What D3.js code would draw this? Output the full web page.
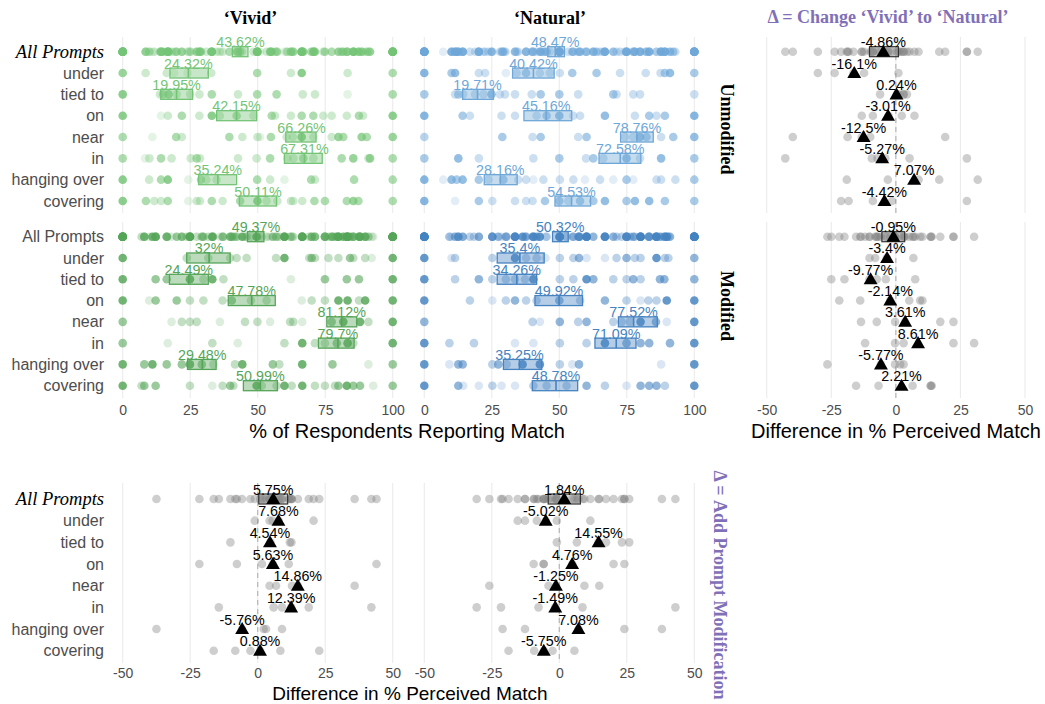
<!DOCTYPE html>
<html>
<head>
<meta charset="utf-8">
<script src="https://cdn.jsdelivr.net/npm/d3@7"></script>
<style>
  body { margin: 0; background: #fff; }
  text { font-family: "Liberation Sans", Arial, sans-serif; }
</style>
</head>
<body>
<svg id="chart" width="1045" height="704"></svg>
<script>
// Row order, top to bottom
const prompts = ["under", "tied to", "on", "near", "in", "hanging over", "covering"];
const rowLabels = ["All Prompts", ...prompts];

// Per-image match rates, [value, overlap count], one array per prompt (same order as prompts)
const vividUnmodDots = [
  [[0,6],[8.5,2],[16.3,2],[19,1],[24,1],[32.8,2],[49.8,4],[62.3,2],[66.3,8],[83.3,2],[100,4]],
  [[0,8],[13.8,2],[15,4],[17,6],[20,2],[25,2],[28.4,2],[33,4],[42.7,2],[49.8,4],[57,4],[66.7,2],[71.2,2],[83.3,1],[100,4]],
  [[0,8],[14.2,1],[16.7,2],[21.9,4],[28.4,2],[33,8],[36,2],[42.2,4],[48.4,2],[55.2,4],[56.4,2],[62.3,2],[66.3,4],[70.6,4],[74.3,2],[77.4,2],[83,2],[87.5,4],[89,2],[100,8]],
  [[0,4],[11,1],[19.8,4],[21.9,2],[39.5,4],[44.3,2],[49.9,2],[50.9,1],[54.9,4],[60.7,2],[63,2],[66.3,8],[70.6,2],[77.4,2],[79.9,6],[81.7,4],[88.5,6],[90.4,4],[100,6]],
  [[0,4],[8.3,1],[9.9,2],[14.2,4],[18.1,2],[25.2,2],[27.4,4],[28.6,2],[42.7,2],[49.6,2],[54.6,4],[61,2],[63.2,2],[66.9,4],[70.6,2],[81.1,4],[85.4,6],[91,2],[91.6,6],[100,4]],
  [[0,8],[9.8,2],[14.2,4],[16.7,8],[24.3,1],[29,4],[31,2],[34.8,2],[49.8,4],[54.6,2],[59.9,1],[69.8,4],[71.2,2],[85.7,4],[100,4]],
  [[0,8],[8.6,4],[11.7,2],[14.2,2],[16.7,4],[24.3,1],[27.4,2],[28.6,2],[33,4],[37,2],[43.5,4],[49.9,8],[53.3,2],[57.3,2],[62.3,2],[63.2,2],[66.5,2],[71,4],[74.9,4],[83,4],[85.4,6],[87.3,4],[100,4]]
];
const naturalUnmodDots = [
  [[0,8],[10.1,4],[11.4,6],[20.2,2],[22.5,2],[30.2,1],[34.2,2],[37.7,4],[42.8,2],[46.5,2],[50.2,2],[54.8,4],[63.8,4],[72.5,2],[82,2],[87.5,2],[89.1,4],[91,6],[100,4]],
  [[0,4],[11.4,2],[12.6,4],[14.4,2],[18.8,2],[21.9,2],[24.9,6],[28,2],[29.9,2],[33.6,2],[39.8,2],[43.1,4],[50,4],[57,2],[70,4],[71.2,2],[77.4,2],[79.9,2],[100,2]],
  [[0,8],[14.2,4],[16.9,2],[28.6,2],[33.6,2],[41.6,2],[45.3,4],[50,6],[55.2,2],[57.7,2],[66.9,6],[78,2],[83.3,4],[86,2],[89.1,4],[100,8]],
  [[0,3],[28.9,4],[40.1,2],[43.1,4],[57,2],[60.1,4],[74.3,2],[77.4,2],[79.9,6],[82.3,4],[87.7,2],[92.2,4],[100,6]],
  [[0,4],[12.6,6],[20.2,2],[40.4,2],[50,4],[59.9,2],[62.6,4],[66.3,2],[74.9,6],[79.9,2],[87.7,6],[100,4]],
  [[0,8],[7,1],[10.1,6],[12,4],[14.2,6],[20.2,4],[23.7,2],[29.3,4],[34.8,2],[37.7,2],[40.4,1],[44.1,2],[50.2,2],[55.2,2],[59.5,1],[65.1,2],[70,1],[74.9,4],[77.4,1],[86,2],[87.7,2],[93,2],[100,4]],
  [[0,8],[11.4,1],[20.2,4],[25.2,2],[33.6,2],[37.7,2],[40.1,2],[44.7,4],[50,4],[53.3,2],[57.7,4],[62.6,4],[66.9,6],[74.9,4],[78,6],[83.3,6],[89.1,4],[100,4]]
];
const vividModDots = [
  [[0,8],[23.7,2],[31.7,2],[39.8,2],[42.2,2],[45.9,2],[56.8,2],[59.9,8],[69.1,2],[70,4],[71.2,2],[76.2,2],[79.9,2],[84.2,4],[85.4,2],[89.8,2],[92.2,1],[100,8]],
  [[0,8],[12.2,4],[16.3,4],[24.9,8],[29.9,2],[33.2,8],[37.3,2],[62.3,1],[74.9,4],[83,4],[87.5,4],[100,8]],
  [[0,8],[9.8,1],[12.2,4],[20,4],[24.9,2],[29.9,2],[37,2],[40.4,4],[47.5,2],[53.3,2],[66.3,1],[70,2],[74.9,2],[79.9,8],[83.3,8],[87.5,2],[89.8,8],[100,8]],
  [[0,4],[18.1,1],[21.9,2],[24.9,2],[27.4,2],[36,1],[45.3,2],[49.9,2],[54.6,1],[62,2],[63.2,2],[66.5,1],[77.4,4],[81.7,8],[87.9,8],[91,2],[100,8]],
  [[0,4],[16.7,1],[33.2,2],[42.6,1],[59.9,2],[66.5,8],[71.2,2],[74.9,2],[79.3,4],[83.3,8],[85.4,2],[100,8]],
  [[0,8],[8,4],[11,8],[16.3,4],[21.9,4],[24.9,8],[29.3,4],[33.6,2],[41.6,2],[44.3,8],[55.6,4],[58,2],[66.5,8],[77.7,4],[91,1],[100,4]],
  [[0,8],[7,2],[8,4],[12.2,4],[24.9,2],[33.2,1],[37,2],[39.8,4],[41,2],[49.6,8],[51.5,2],[57,2],[59.9,8],[62.6,2],[66.5,8],[71.2,2],[74.9,2],[78.6,2],[79.9,4],[83,8],[85.4,4],[87.9,4],[92.8,1],[100,4]]
];
const naturalModDots = [
  [[0,8],[10.1,1],[11.4,2],[25.2,2],[33.6,8],[37.7,2],[41.6,2],[44.9,1],[50.2,2],[55.2,2],[57.3,4],[60.1,1],[66.9,1],[71.2,2],[74.9,4],[78,2],[80.1,2],[86,8],[89.1,2],[90.4,2],[100,4]],
  [[0,8],[11.4,2],[20.2,4],[25.2,2],[30.2,2],[33.6,2],[37.3,2],[40.4,8],[50.2,2],[55.2,2],[60.1,8],[62.6,4],[70,2],[74.9,2],[77.4,4],[80.1,2],[87.3,4],[88.9,4],[100,4]],
  [[0,8],[16.9,2],[25.2,1],[30.2,2],[33.6,4],[37.7,2],[41.6,2],[50,4],[57.7,2],[66.9,4],[74.9,2],[80.1,1],[83,2],[86,2],[89.8,8],[100,8]],
  [[0,4],[40.1,2],[42.8,1],[50.2,4],[57,2],[60.1,4],[70,2],[73.1,2],[76.2,2],[80.1,8],[85.8,4],[89.8,1],[100,8]],
  [[0,8],[9.3,2],[18.4,2],[33.6,1],[40.4,1],[50.2,2],[60.1,2],[66.9,8],[74.9,4],[80.1,4],[83.3,4],[91,4],[100,8]],
  [[0,8],[9.3,1],[12.6,4],[14.2,4],[25.2,2],[27.4,4],[30.5,2],[36.4,8],[42.8,8],[50.2,2],[54.8,1],[57.3,4],[87.7,1],[100,8]],
  [[0,8],[12.6,4],[14.4,1],[20.2,1],[25.2,2],[28.6,1],[33.6,1],[40.4,2],[45.3,2],[52.7,2],[60.1,4],[66.9,2],[74.9,1],[80.1,4],[83.3,4],[86,4],[89.1,2],[100,8]]
];

// Means and interval bounds, rows in rowLabels order
const vividUnmodMean = ["43.62", "24.32", "19.95", "42.15", "66.26", "67.31", "35.24", "50.11"];
const vividUnmodLo = [40.6, 17.5, 14.1, 34.8, 60.4, 59.9, 28.1, 43.2];
const vividUnmodHi = [46.4, 31.7, 25.9, 49.6, 71.6, 73.9, 42.2, 57.0];
const naturalUnmodMean = ["48.47", "40.42", "19.71", "45.16", "78.76", "72.58", "28.16", "54.53"];
const naturalUnmodLo = [45.7, 32.7, 14.2, 36.9, 72.7, 64.7, 22.2, 48.4];
const naturalUnmodHi = [51.9, 48.1, 25.6, 54.6, 84.8, 80.2, 34.4, 61.6];
const vividModMean = ["49.37", "32", "24.49", "47.78", "81.12", "79.7", "29.48", "50.99"];
const vividModLo = [46.2, 23.7, 17.3, 39.1, 75.6, 72.5, 24.0, 44.7];
const vividModHi = [52.3, 39.8, 31.7, 56.5, 86.7, 85.7, 34.6, 57.3];
const naturalModMean = ["50.32", "35.4", "34.26", "49.92", "77.52", "71.09", "35.25", "48.78"];
const naturalModLo = [47.5, 27.0, 27.0, 41.0, 71.9, 63.2, 29.3, 40.0];
const naturalModHi = [53.3, 44.4, 41.6, 58.6, 86.3, 78.4, 43.5, 56.8];

// Differences per image, one array per prompt
const changeUnmodDots = [
  [-30.2, -23.7, -16.4, -12.3, 1],
  [-6.1, 0.4, 1.4, 3, 3, 4.3],
  [-13.2, -8.9, -2.8, 2.3, 7.2],
  [-39.9, -18.7, -13.2, -9.9, 19.1],
  [-42.8, -9.3, -7.1, -4.1, 5.3, 27.5],
  [-19, -3.1, 8.8, 16.8, 31.7],
  [-21.2, -18.3, -8.9, -1.5, 27.5]
];
const changeModDots = [
  [-10.2, -8, -3.5, 6.8],
  [-25, -19.9, -10.2, -7.4, -3.9, 7.5],
  [-21.9, -13.8, -2.2, 5.2, 9.4, 10.3],
  [-13.5, -7.4, -0.3, 3.6, 17.2, 22.3],
  [-11.9, -0.3, 3, 22.3, 30.3],
  [-26.5, -5.8, -0.3, 1.7, 3],
  [-15.4, -6.7, 6.5, 13.5, 13.5, 13.9]
];
const addVividDots = [
  [-1.1, 4.4, 5.5, 7.8, 20.7],
  [-10.1, 4.7, 11.9, 12.5],
  [-21.6, -7.7, 1.6, 5.6, 11.5, 44],
  [4.4, 6.8, 12.7, 14.9, 35.9],
  [-14.4, 5.9, 9, 12.4, 18.9, 42.1],
  [-37.5, -5.8, 2.2, 3.1, 9],
  [-16.3, -8.3, -2.7, 0.9, 8.4, 22.8]
];
const addNaturalDots = [
  [-15.4, -12.7, -8.3, -5, -0.9, 11.5],
  [-0.9, 6.5, 14.5, 17.3, 23.2, 25.9],
  [-9.5, -5.8, -5.8, 4.8, 20.1, 24.1],
  [-25.9, -4, -1.2, 9.3, 14.8],
  [-30.6, -21.6, -7.7, -1.5, 8.6, 43],
  [-21, -12.7, 7.1, 24.1, 38],
  [-18.8, -9.3, -5.7, -2.5, 5.6]
];

const changeUnmodMean = ["-4.86", "-16.1", "0.24", "-3.01", "-12.5", "-5.27", "7.07", "-4.42"];
const changeModMean = ["-0.95", "-3.4", "-9.77", "-2.14", "3.61", "8.61", "-5.77", "2.21"];
const addVividMean = ["5.75", "7.68", "4.54", "5.63", "14.86", "12.39", "-5.76", "0.88"];
const addNaturalMean = ["1.84", "-5.02", "14.55", "4.76", "-1.25", "-1.49", "7.08", "-5.75"];
// interval for the "All Prompts" row only
const changeUnmodAllCI = [-10.2, 1.0];
const changeModAllCI = [-5.4, 3.4];
const addVividAllCI = [0.4, 11.1];
const addNaturalAllCI = [-4.1, 7.8];

const matchTicks = [0, 25, 50, 75, 100];
const diffTicks = [-50, -25, 0, 25, 50];

// --- styling ---
const greenLight = "#74c476", greenDark = "#55a558";
const blueLight = "#6ea7d8", blueDark = "#4583c1";
const purple = "#7f70b8";
const gridColor = "#ebebeb";
const dotAlpha = 0.2;
const serif = '"Liberation Serif", "Times New Roman", serif';
const sans = '"Liberation Sans", Arial, sans-serif';

const svg = d3.select("#chart");

// scales
const xVivid = d3.scaleLinear([0, 100], [122.7, 392.7]);
const xNatural = d3.scaleLinear([0, 100], [424.3, 694.3]);
const xChange = d3.scaleLinear([-50, 50], [766.7, 1025]);
const xAddVivid = d3.scaleLinear([-50, 50], [122.7, 392.7]);
const xAddNatural = d3.scaleLinear([-50, 50], [424.3, 694.3]);

const yUnmod = d3.scalePoint(rowLabels, [51.7, 201]);
const yMod = d3.scalePoint(rowLabels, [236.7, 385.7]);
const yBottom = d3.scalePoint(rowLabels, [499, 650.7]);

function drawGrid(x, ticks, y0, y1, zeroLine) {
  const g = svg.append("g");
  g.selectAll("line").data(ticks).join("line")
    .attr("x1", d => x(d)).attr("x2", d => x(d))
    .attr("y1", y0).attr("y2", y1)
    .attr("stroke", gridColor).attr("stroke-width", 1.1);
  if (zeroLine) {
    g.append("line")
      .attr("x1", x(0)).attr("x2", x(0)).attr("y1", y0).attr("y2", y1)
      .attr("stroke", "#b5b5b5").attr("stroke-width", 1.2)
      .attr("stroke-dasharray", "5,4");
  }
}

function drawXAxis(x, ticks, yPos) {
  const g = svg.append("g")
    .attr("transform", `translate(0,${yPos})`)
    .call(d3.axisBottom(x).tickValues(ticks).tickSize(0).tickPadding(7).tickFormat(d => String(d)));
  g.select(".domain").remove();
  g.selectAll("text")
    .attr("fill", "#4d4d4d")
    .style("font-size", "14px")
    .style("font-family", sans);
}

function drawRowLabels(y, italicAll) {
  const g = svg.append("g")
    .attr("transform", "translate(104,0)")
    .call(d3.axisLeft(y).tickSize(0).tickPadding(0));
  g.select(".domain").remove();
  g.selectAll("text")
    .attr("fill", "#4d4d4d")
    .style("font-size", "16px")
    .style("font-family", sans);
  if (italicAll) {
    g.selectAll("text").filter(d => d === "All Prompts")
      .attr("fill", "#000")
      .style("font-family", serif)
      .style("font-style", "italic")
      .style("font-size", "18.5px");
  }
}

function valueLabel(g, x, y, rows, means, color) {
  g.selectAll("text.val").data(rows).join("text")
    .attr("class", "val")
    .attr("x", (d, i) => x(+means[i]))
    .attr("y", d => y(d) - 4.5)
    .attr("text-anchor", "middle")
    .attr("fill", color)
    .style("font-size", "14.3px")
    .text((d, i) => means[i] + "%");
}

function drawMatchPanel(x, y, dots, means, lo, hi, color) {
  const g = svg.append("g");
  const pts = dots.flatMap((row, i) => row.flatMap(([v, n]) => [
    { v, n, row: prompts[i] },
    { v, n, row: "All Prompts" }
  ]));
  g.selectAll("circle").data(pts).join("circle")
    .attr("cx", d => x(d.v)).attr("cy", d => y(d.row)).attr("r", 4.3)
    .attr("fill", color)
    .attr("fill-opacity", d => 1 - Math.pow(1 - dotAlpha, d.n));
  g.selectAll("rect").data(rowLabels).join("rect")
    .attr("x", (d, i) => x(lo[i]))
    .attr("width", (d, i) => x(hi[i]) - x(lo[i]))
    .attr("y", d => y(d) - 5).attr("height", 10)
    .attr("fill", color).attr("fill-opacity", 0.4)
    .attr("stroke", color).attr("stroke-width", 1.3);
  g.selectAll("line.mid").data(rowLabels).join("line")
    .attr("class", "mid")
    .attr("x1", (d, i) => x(+means[i])).attr("x2", (d, i) => x(+means[i]))
    .attr("y1", d => y(d) - 5).attr("y2", d => y(d) + 5)
    .attr("stroke", color).attr("stroke-width", 1.6);
  valueLabel(g, x, y, rowLabels, means, color);
}

const triangle = d3.symbol(d3.symbolTriangle).size(84);

function drawDiffPanel(x, y, dots, means, allCI) {
  const g = svg.append("g");
  const pts = dots.flatMap((row, i) => row.flatMap(v => [
    { v, row: prompts[i] },
    { v, row: "All Prompts" }
  ]));
  g.selectAll("circle").data(pts).join("circle")
    .attr("cx", d => x(d.v)).attr("cy", d => y(d.row)).attr("r", 4.3)
    .attr("fill", "#7f7f7f").attr("fill-opacity", 0.38);
  g.append("rect")
    .attr("x", x(allCI[0])).attr("width", x(allCI[1]) - x(allCI[0]))
    .attr("y", y("All Prompts") - 5).attr("height", 10)
    .attr("fill", "#8c8c8c").attr("fill-opacity", 0.35)
    .attr("stroke", "#333").attr("stroke-width", 1.2);
  g.selectAll("path").data(rowLabels).join("path")
    .attr("d", triangle)
    .attr("transform", (d, i) => `translate(${x(+means[i])},${y(d) + 1})`)
    .attr("fill", "#000");
  valueLabel(g, x, y, rowLabels, means, "#000");
}

// grids
[[xVivid, matchTicks], [xNatural, matchTicks]].forEach(([x, t]) => {
  drawGrid(x, t, 37, 213, false);
  drawGrid(x, t, 222, 398, false);
});
drawGrid(xChange, diffTicks, 37, 213, true);
drawGrid(xChange, diffTicks, 222, 398, true);
drawGrid(xAddVivid, diffTicks, 483, 663, true);
drawGrid(xAddNatural, diffTicks, 483, 663, true);

// panels
drawMatchPanel(xVivid, yUnmod, vividUnmodDots, vividUnmodMean, vividUnmodLo, vividUnmodHi, greenLight);
drawMatchPanel(xNatural, yUnmod, naturalUnmodDots, naturalUnmodMean, naturalUnmodLo, naturalUnmodHi, blueLight);
drawMatchPanel(xVivid, yMod, vividModDots, vividModMean, vividModLo, vividModHi, greenDark);
drawMatchPanel(xNatural, yMod, naturalModDots, naturalModMean, naturalModLo, naturalModHi, blueDark);
drawDiffPanel(xChange, yUnmod, changeUnmodDots, changeUnmodMean, changeUnmodAllCI);
drawDiffPanel(xChange, yMod, changeModDots, changeModMean, changeModAllCI);
drawDiffPanel(xAddVivid, yBottom, addVividDots, addVividMean, addVividAllCI);
drawDiffPanel(xAddNatural, yBottom, addNaturalDots, addNaturalMean, addNaturalAllCI);

// axes
drawXAxis(xVivid, matchTicks, 398);
drawXAxis(xNatural, matchTicks, 398);
drawXAxis(xChange, diffTicks, 398);
drawXAxis(xAddVivid, diffTicks, 661);
drawXAxis(xAddNatural, diffTicks, 661);

drawRowLabels(yUnmod, true);
drawRowLabels(yMod, false);
drawRowLabels(yBottom, true);

// titles
function title(x, y, txt, opts = {}) {
  return svg.append("text")
    .attr("x", x).attr("y", y)
    .attr("text-anchor", "middle")
    .attr("fill", opts.color || "#000")
    .style("font-family", opts.serif ? serif : sans)
    .style("font-weight", opts.bold ? "bold" : "normal")
    .style("font-size", (opts.size || 18) + "px")
    .text(txt);
}
title(250.5, 24, "\u2018Vivid\u2019", { serif: true, bold: true });
title(550, 24, "\u2018Natural\u2019", { serif: true, bold: true });
title(888, 23, "\u0394 = Change \u2018Vivid\u2019 to \u2018Natural\u2019", { serif: true, bold: true, color: purple });

title(407, 438, "% of Respondents Reporting Match", { size: 20 });
title(896, 438, "Difference in % Perceived Match", { size: 20 });
title(410, 699.5, "Difference in % Perceived Match", { size: 19 });

// rotated strip labels
function sideLabel(x, y, txt, color) {
  svg.append("text")
    .attr("transform", `translate(${x},${y}) rotate(90)`)
    .attr("text-anchor", "middle")
    .attr("dominant-baseline", "central")
    .attr("fill", color)
    .style("font-family", serif)
    .style("font-weight", "bold")
    .style("font-size", "18px")
    .text(txt);
}
sideLabel(727, 129, "Unmodified", "#000");
sideLabel(727, 306, "Modified", "#000");
sideLabel(720, 585, "\u0394 = Add Prompt Modification", purple);
</script>
</body>
</html>
